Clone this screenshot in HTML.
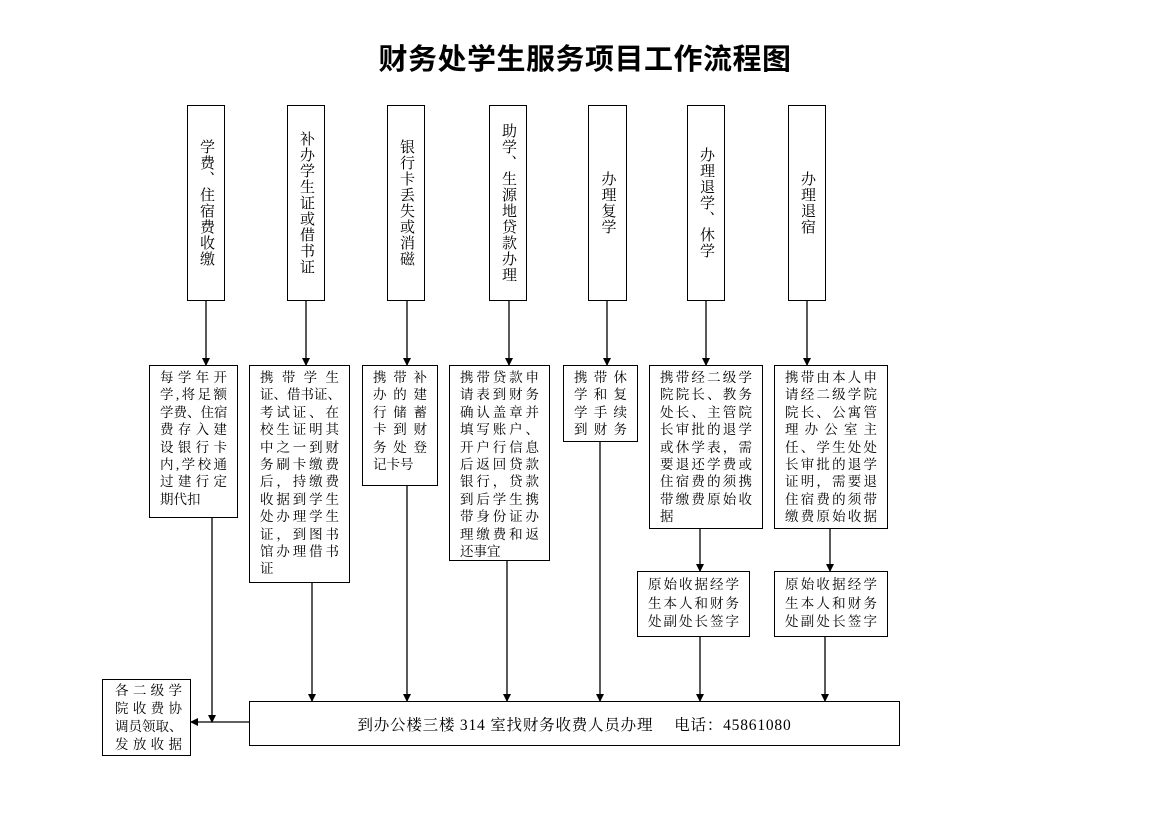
<!DOCTYPE html>
<html><head><meta charset="utf-8"><style>
body{margin:0;width:1170px;height:827px;background:#fff;position:relative;overflow:hidden;font-family:"Liberation Serif","Noto Serif CJK SC","Noto Sans CJK SC",serif;color:#000}
.b{position:absolute;border:1px solid #000;box-sizing:border-box;background:#fff}
.v{display:flex;align-items:center;justify-content:center}
.v span{writing-mode:vertical-rl;font-size:15px;line-height:16px;letter-spacing:1px}
.t{font-size:13.5px;line-height:17.4px;padding:3px 10px 0 10px}
.t div{text-align:justify;text-align-last:justify;white-space:nowrap}
.t div.l{text-align-last:left}
#title{position:absolute;left:360px;top:38px;width:450px;text-align:center;font-size:29px;letter-spacing:0.5px;font-weight:bold;font-family:"Noto Sans CJK SC",sans-serif;line-height:38px}
svg{position:absolute;left:0;top:0}
</style></head><body>
<div id="title">财务处学生服务项目工作流程图</div>
<svg width="1170" height="827">
<defs><marker id="a" markerWidth="8" markerHeight="8" refX="7" refY="4" orient="auto" markerUnits="userSpaceOnUse"><path d="M0,0 L8,4 L0,8 z" fill="#000"/></marker></defs>
<g stroke="#000" stroke-width="1.3" fill="none" marker-end="url(#a)">
<line x1="206" y1="301" x2="206" y2="365"/>
<line x1="306" y1="301" x2="306" y2="365"/>
<line x1="407" y1="301" x2="407" y2="365"/>
<line x1="509" y1="301" x2="509" y2="365"/>
<line x1="607" y1="301" x2="607" y2="365"/>
<line x1="706" y1="301" x2="706" y2="365"/>
<line x1="807" y1="301" x2="807" y2="365"/>
<line x1="212" y1="517" x2="212" y2="722"/>
<line x1="312" y1="582" x2="312" y2="701"/>
<line x1="407" y1="485" x2="407" y2="701"/>
<line x1="507" y1="560" x2="507" y2="701"/>
<line x1="600" y1="441" x2="600" y2="701"/>
<line x1="700" y1="636" x2="700" y2="701"/>
<line x1="825" y1="636" x2="825" y2="701"/>
<line x1="700" y1="528" x2="700" y2="571"/>
<line x1="830" y1="528" x2="830" y2="571"/>
<line x1="249" y1="722" x2="191" y2="722"/>
</g>
</svg>
<div class="b v" style="left:187px;top:105px;width:38px;height:196px"><span>学费、住宿费收缴</span></div>
<div class="b v" style="left:287px;top:105px;width:38px;height:196px"><span>补办学生证或借书证</span></div>
<div class="b v" style="left:387px;top:105px;width:38px;height:196px"><span>银行卡丢失或消磁</span></div>
<div class="b v" style="left:489px;top:105px;width:38px;height:196px"><span>助学、生源地贷款办理</span></div>
<div class="b v" style="left:588px;top:105px;width:39px;height:196px"><span>办理复学</span></div>
<div class="b v" style="left:687px;top:105px;width:38px;height:196px"><span>办理退学、休学</span></div>
<div class="b v" style="left:788px;top:105px;width:38px;height:196px"><span>办理退宿</span></div>

<div class="b t" style="left:149px;top:365px;width:89px;height:153px"><div>每学年开</div><div>学,将足额</div><div>学费、住宿</div><div>费存入建</div><div>设银行卡</div><div>内,学校通</div><div>过建行定</div><div class="l">期代扣</div></div>
<div class="b t" style="left:249px;top:365px;width:101px;height:218px"><div>携带学生</div><div>证、借书证、</div><div>考试证、在</div><div>校生证明其</div><div>中之一到财</div><div>务刷卡缴费</div><div>后，持缴费</div><div>收据到学生</div><div>处办理学生</div><div>证，到图书</div><div>馆办理借书</div><div class="l">证</div></div>
<div class="b t" style="left:362px;top:365px;width:76px;height:121px"><div>携带补</div><div>办的建</div><div>行储蓄</div><div>卡到财</div><div>务处登</div><div class="l">记卡号</div></div>
<div class="b t" style="left:449px;top:365px;width:101px;height:196px"><div>携带贷款申</div><div>请表到财务</div><div>确认盖章并</div><div>填写账户、</div><div>开户行信息</div><div>后返回贷款</div><div>银行，贷款</div><div>到后学生携</div><div>带身份证办</div><div>理缴费和返</div><div class="l">还事宜</div></div>
<div class="b t" style="left:563px;top:365px;width:75px;height:77px"><div>携带休</div><div>学和复</div><div>学手续</div><div>到财务</div></div>
<div class="b t" style="left:649px;top:365px;width:114px;height:164px"><div>携带经二级学</div><div>院院长、教务</div><div>处长、主管院</div><div>长审批的退学</div><div>或休学表，需</div><div>要退还学费或</div><div>住宿费的须携</div><div>带缴费原始收</div><div class="l">据</div></div>
<div class="b t" style="left:774px;top:365px;width:114px;height:164px"><div>携带由本人申</div><div>请经二级学院</div><div>院长、公寓管</div><div>理办公室主</div><div>任、学生处处</div><div>长审批的退学</div><div>证明，需要退</div><div>住宿费的须带</div><div>缴费原始收据</div></div>
<div class="b t" style="left:637px;top:571px;width:113px;height:66px;padding-top:4px;line-height:18.5px"><div>原始收据经学</div><div>生本人和财务</div><div>处副处长签字</div></div>
<div class="b t" style="left:774px;top:571px;width:114px;height:66px;padding-top:4px;line-height:18.5px"><div>原始收据经学</div><div>生本人和财务</div><div>处副处长签字</div></div>
<div class="b t" style="left:102px;top:679px;width:89px;height:77px;padding:2px 8px 0 12px;line-height:18px"><div>各二级学</div><div>院收费协</div><div>调员领取、</div><div>发放收据</div></div>
<div class="b" style="left:249px;top:701px;width:651px;height:45px;display:flex;align-items:center;justify-content:center;font-size:15.5px;letter-spacing:0.8px">到办公楼三楼 314 室找财务收费人员办理　 电话：45861080</div>
</body></html>
